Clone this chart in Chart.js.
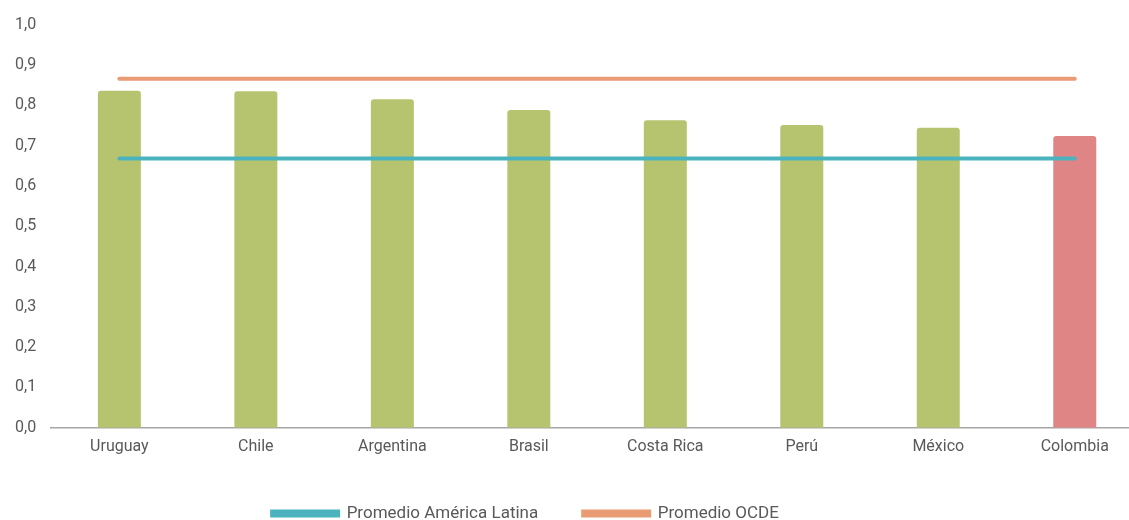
<!DOCTYPE html>
<html lang="es">
<head>
<meta charset="UTF-8">
<title>Comparación regional</title>
<script src="https://cdn.jsdelivr.net/npm/chart.js"></script>
<style>
  html, body {
    margin: 0;
    padding: 0;
    background: #fff;
    overflow: hidden;
  }
  #wrap {
    width: 1145px;
    height: 520px;
  }
</style>
</head>
<body>
<div id="wrap">
  <canvas id="chart" width="1145" height="520"></canvas>
</div>
<script>
const countries = ['Uruguay', 'Chile', 'Argentina', 'Brasil', 'Costa Rica', 'Perú', 'México', 'Colombia'];
const values = [0.836, 0.835, 0.815, 0.788, 0.763, 0.751, 0.744, 0.724];
const latamAvg = [0.668, 0.668, 0.668, 0.668, 0.668, 0.668, 0.668, 0.668];
const ocdeAvg = [0.866, 0.866, 0.866, 0.866, 0.866, 0.866, 0.866, 0.866];
const yTicks = [0, 0.1, 0.2, 0.3, 0.4, 0.5, 0.6, 0.7, 0.8, 0.9, 1.0];

const green = '#b7c46f';
const red = '#e08585';
const teal = '#4bb3bd';
const orange = '#e99b74';
const textGray = '#595959';

const barColors = countries.map(c => c === 'Colombia' ? red : green);

Chart.defaults.font.family = 'Roboto, "Open Sans", sans-serif';
Chart.defaults.font.size = 16;
Chart.defaults.color = textGray;

// nudge the legend a bit left of the canvas centre, like the original
const legendShift = {
  id: 'legendShift',
  afterLayout(chart) {
    chart.legend.left -= 46;
    chart.legend.right -= 46;
  }
};

new Chart(document.getElementById('chart'), {
  type: 'bar',
  data: {
    labels: countries,
    datasets: [
      {
        type: 'line',
        label: 'Promedio América Latina',
        data: latamAvg,
        borderColor: teal,
        backgroundColor: teal,
        borderWidth: 4,
        borderCapStyle: 'round',
        pointRadius: 0
      },
      {
        type: 'line',
        label: 'Promedio OCDE',
        data: ocdeAvg,
        borderColor: orange,
        backgroundColor: orange,
        borderWidth: 4,
        borderCapStyle: 'round',
        pointRadius: 0
      },
      {
        label: 'Índice',
        data: values,
        backgroundColor: barColors,
        borderRadius: { topLeft: 3, topRight: 3 },
        borderSkipped: 'bottom',
        barPercentage: 0.63,
        categoryPercentage: 0.5
      }
    ]
  },
  options: {
    responsive: false,
    animation: false,
    layout: {
      padding: { left: 0, right: 2, top: 12, bottom: -12 }
    },
    scales: {
      x: {
        offset: true,
        grid: { display: false, drawTicks: false },
        border: { display: true, color: '#a6a6a6', width: 1.5 },
        ticks: { padding: 10, color: textGray },
        afterFit: (scale) => { scale.height -= 7; }
      },
      y: {
        min: 0,
        max: 1,
        afterBuildTicks: (scale) => {
          scale.ticks = yTicks.map(v => ({ value: v }));
        },
        grid: { display: false, drawTicks: false },
        border: { display: false },
        ticks: {
          padding: 15,
          color: textGray,
          callback: (v) => Number(v).toFixed(1).replace('.', ',')
        }
      }
    },
    plugins: {
      legend: {
        position: 'bottom',
        labels: {
          filter: (item) => item.datasetIndex < 2,
          boxWidth: 66,
          boxHeight: 4,
          padding: 45,
          color: textGray,
          font: { size: 17 }
        }
      },
      tooltip: { enabled: false }
    }
  },
  plugins: [legendShift]
});
</script>
</body>
</html>
